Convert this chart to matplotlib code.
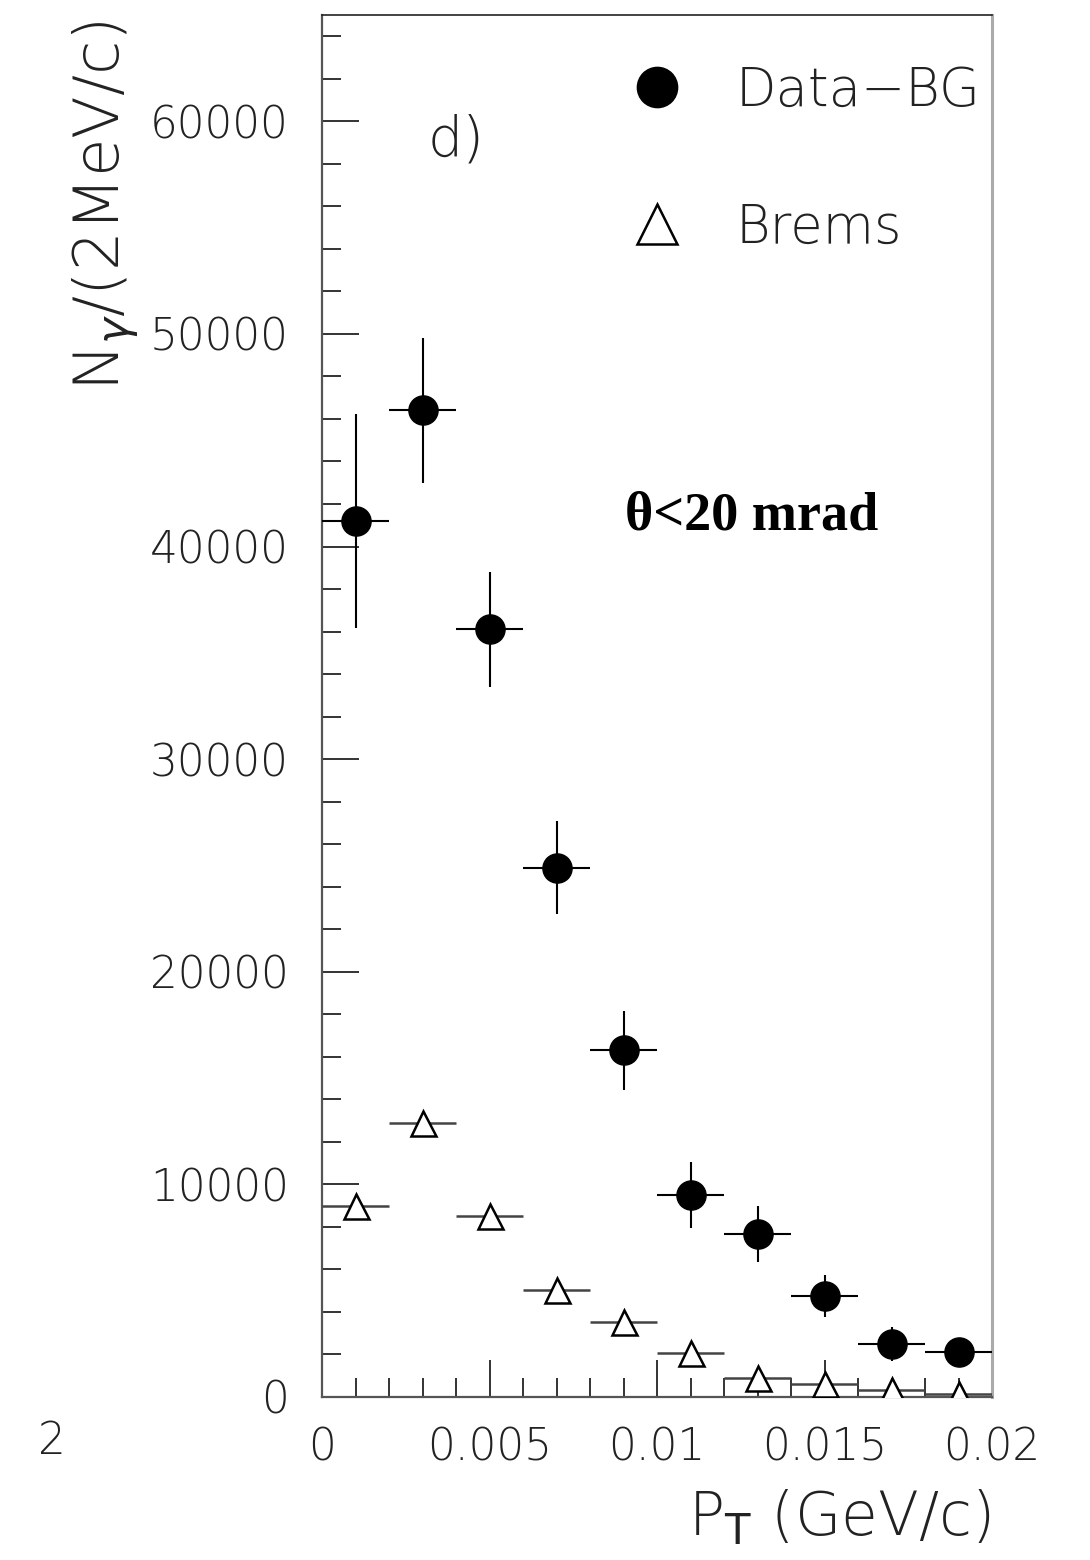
import numpy as np
import matplotlib
matplotlib.use("Agg")
import matplotlib.pyplot as plt
from matplotlib.ticker import MultipleLocator, FuncFormatter
from matplotlib.lines import Line2D

plt.rcParams['font.family'] = ['DejaVu Sans']
plt.rcParams['mathtext.fontset'] = 'dejavusans'

# bin centres of P_T (GeV/c), bin width 2 MeV/c
pt = [0.001, 0.003, 0.005, 0.007, 0.009, 0.011, 0.013, 0.015, 0.017, 0.019]
pt_halfwidth = 0.001

# Data - BG
data_bg = [41200, 46400, 36100, 24900, 16300, 9500, 7650, 4750, 2500, 2100]
data_bg_err = [5050, 3400, 2700, 2200, 1850, 1550, 1320, 1000, 800, 300]

# Bremsstrahlung expectation
brems = [9000, 12900, 8500, 5030, 3540, 2060, 900, 620, 330, 130]

fig = plt.figure(figsize=(10.9, 15.6), dpi=100)
ax = fig.add_axes([322/1090, 1 - 1397/1560, 670/1090, 1382/1560])

ax.errorbar(pt, brems, xerr=pt_halfwidth, fmt='^', ms=18, mfc='white',
            mec='black', mew=1.8, ecolor='#444444', elinewidth=1.8,
            capsize=0, zorder=3)
ax.errorbar(pt, data_bg, xerr=pt_halfwidth, yerr=data_bg_err, fmt='o',
            ms=21, color='black', ecolor='black', elinewidth=1.5,
            capsize=0, zorder=4)

ax.set_xlim(0, 0.02)
ax.set_ylim(0, 65000)

# axis ticks
ax.xaxis.set_major_locator(MultipleLocator(0.005))
ax.xaxis.set_minor_locator(MultipleLocator(0.001))
ax.yaxis.set_major_locator(MultipleLocator(10000))
ax.yaxis.set_minor_locator(MultipleLocator(2000))
ax.xaxis.set_major_formatter(FuncFormatter(lambda v, p: '%g' % round(v, 4)))
ax.yaxis.set_major_formatter(FuncFormatter(lambda v, p: '%d' % v))
ax.tick_params(which='both', direction='in', top=False, right=False,
               width=1.4, color='#333333', labelsize=31.5, labelcolor='#222222')
ax.tick_params(which='major', length=26.5)
ax.tick_params(which='minor', length=13.5)
ax.tick_params(axis='y', which='major', pad=24)
ax.tick_params(axis='x', which='major', pad=21)
for lab in ax.get_xticklabels() + ax.get_yticklabels():
    lab.set_fontweight('light')

ax.spines['right'].set_color('#aaaaaa')
ax.spines['right'].set_linewidth(2.2)
ax.spines['left'].set_color('#555555')
ax.spines['left'].set_linewidth(1.6)
ax.spines['bottom'].set_color('#555555')
ax.spines['bottom'].set_linewidth(1.6)
ax.spines['top'].set_color('#222222')
ax.spines['top'].set_linewidth(1.2)

# axis titles
ax.set_ylabel(r'N$_\gamma$/(2MeV/c)', fontsize=45, fontweight='light',
              loc='top', color='#222222')
ax.yaxis.set_label_coords(-0.27, 0.996)
ax.set_xlabel(r'P$_\mathrm{T}$ (GeV/c)', fontsize=43, fontweight='light',
              loc='right', color='#222222')
ax.xaxis.set_label_coords(0.997, -0.066)

# annotations
ax.text(0.158, 0.909, 'd)', transform=ax.transAxes, fontsize=40,
        fontweight='light', ha='left', va='center', color='#222222')
ax.text(0.452, 0.637, r'θ<20 mrad', transform=ax.transAxes, fontsize=39,
        family='Liberation Serif', fontweight='bold', ha='left', va='center')

# legend
handles = [Line2D([], [], ls='none', marker='o', ms=29, color='black'),
           Line2D([], [], ls='none', marker='^', ms=29, mfc='white',
                  mec='black', mew=1.8)]
leg = ax.legend(handles, ['Data\u2212BG', 'Brems'], loc='upper left',
                bbox_to_anchor=(0.461, 0.964), frameon=False, fontsize=38,
                handlelength=1.0, handletextpad=0.98, labelspacing=1.6,
                borderpad=0, borderaxespad=0)
for t in leg.get_texts():
    t.set_fontweight('light')
    t.set_color('#222222')

# clipped label from the neighbouring panel
fig.text(52/1090, 1 - 1442/1560, '2', fontsize=31.5, fontweight='light',
         ha='center', va='center', color='#222222')

fig.savefig('out.png', dpi=100)
